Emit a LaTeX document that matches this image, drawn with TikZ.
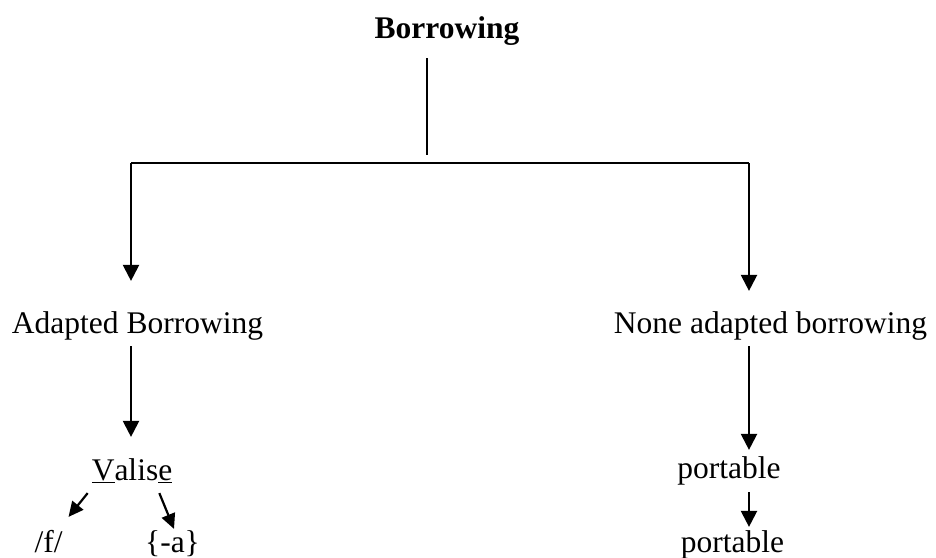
\documentclass[tikz,border=0pt]{standalone}
\usepackage{fontspec}
\setmainfont{Liberation Serif}
\usetikzlibrary{arrows.meta}

\begin{document}
\begin{tikzpicture}[x=1pt,y=-1pt,line width=2.2pt,
    lbl/.style={inner sep=0pt, anchor=base, text height=22pt, text depth=7pt,
                font=\fontsize{31.5}{38}\selectfont},
    arr/.style={-{Triangle[length=16pt,width=16pt]}},
    sarr/.style={-{Triangle[length=15pt,width=14pt]}}]
          \useasboundingbox (0,0) rectangle (936,557);

          %Knoten
          \node[lbl] (root) at (447,38) {\textbf{Borrowing}};
          \node[lbl] (adapt) at (137.5,333) {Adapted Borrowing};
          \node[lbl] (none) at (770.5,333) {None adapted borrowing};
          \node[lbl] (valise) at (132,480) {\underline{V}alis\underline{e}};
          \node[lbl] (f) at (48.5,552) {/f/};
          \node[lbl] (a) at (172.5,552) {\{-a\}};
          \node[lbl] (port1) at (729,478) {portable};
          \node[lbl] (port2) at (732.5,552) {portable};

          \coordinate (stem) at (427,155);
          \coordinate (fork-l) at (131,163);
          \coordinate (fork-r) at (749,163);

          %Verzweigung
          \draw[shorten <=12pt] (stem |- root.south) -- (stem);
          \draw (fork-l) -- (fork-r);
          \draw[arr, shorten >=29pt] (fork-l) -- (fork-l |- adapt.north);
          \draw[arr, shorten >=19pt] (fork-r) -- (fork-r |- none.north);

          %links
          \draw[arr, shorten <=5pt, shorten >=20pt] (fork-l |- adapt.south) -- (fork-l |- valise.north);
          \draw[sarr] ([xshift=-3pt,yshift=-5pt]valise.south west) -- ([xshift=20pt,yshift=12pt]f.north);
          \draw[sarr] ([xshift=-14pt,yshift=-5pt]valise.south east) -- ([xshift=1.5pt,yshift=0pt]a.north);

          %rechts
          \draw[arr, shorten <=5pt, shorten >=5pt] (fork-r |- none.south) -- (fork-r |- port1.north);
          \draw[arr, shorten <=6pt, shorten >=2pt] (fork-r |- port1.south) -- (fork-r |- port2.north);

\end{tikzpicture}
\end{document}
